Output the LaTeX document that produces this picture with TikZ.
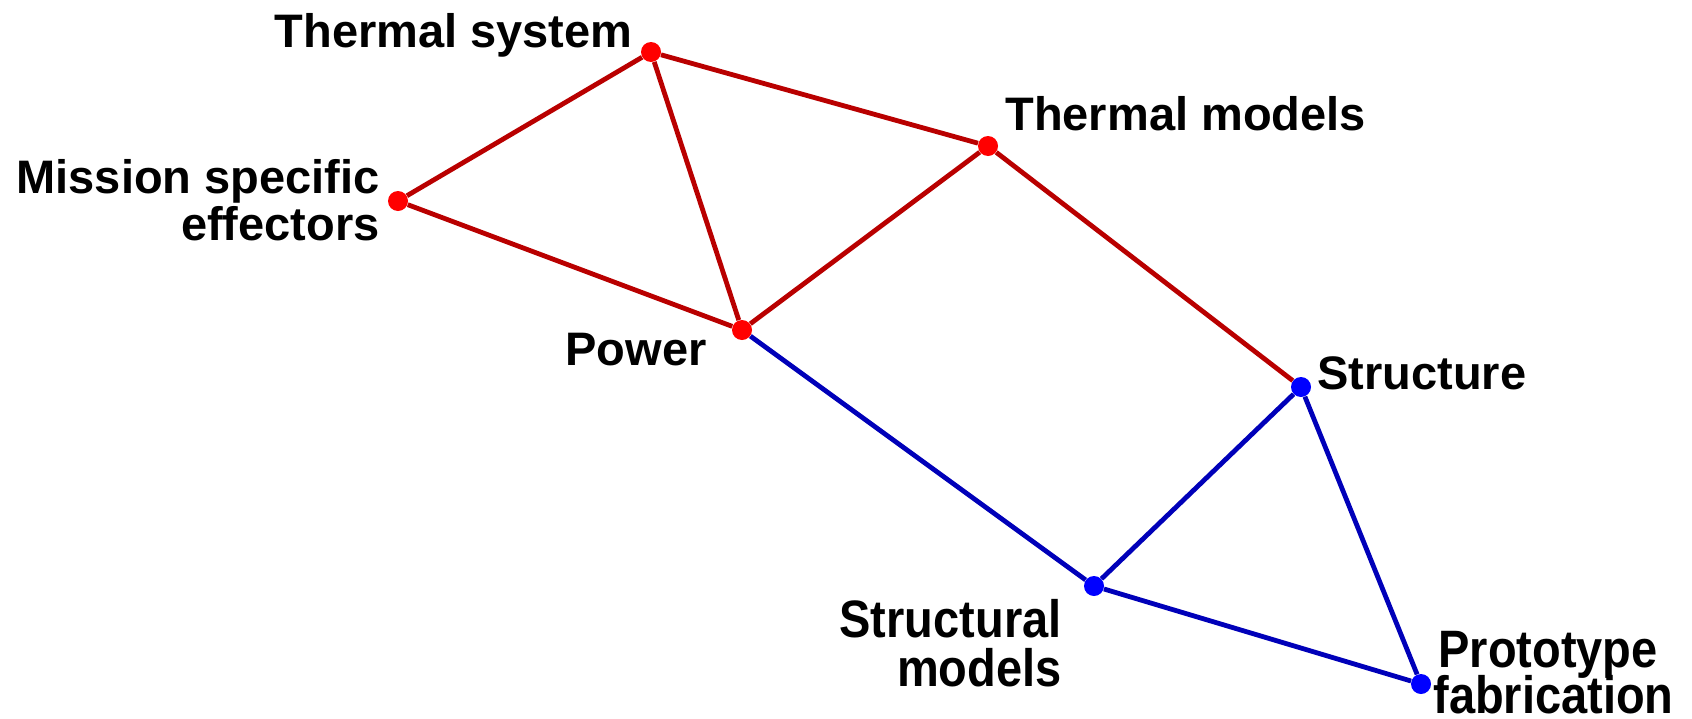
\documentclass[tikz,border=0pt]{standalone}
\usepackage{fontspec}
\setmainfont{Liberation Sans}
\definecolor{edgered}{RGB}{185,0,0}
\definecolor{edgeblue}{RGB}{0,0,185}
\definecolor{dotred}{RGB}{255,0,0}
\definecolor{dotblue}{RGB}{0,0,255}
\begin{document}
\begin{tikzpicture}[x=0.5pt,y=-0.5pt,
  reddot/.style={circle,fill=dotred,inner sep=0pt,minimum size=10pt},
  bluedot/.style={circle,fill=dotblue,inner sep=0pt,minimum size=10pt},
  redline/.style={draw=edgered,line width=2.4pt},
  blueline/.style={draw=edgeblue,line width=2.4pt},
  lbl/.style={inner sep=0pt,font=\fontsize{23.5pt}{28pt}\selectfont\bfseries},
  tall/.style={inner sep=0pt,font=\fontsize{23.5pt}{28pt}\selectfont\bfseries}]
\useasboundingbox[fill=white] (0,0) rectangle (1692,718);
% nodes
\node[reddot] (ts) at (651,52) {};
\node[reddot] (ms) at (398,201) {};
\node[reddot] (tm) at (988,146) {};
\node[reddot] (pw) at (742,330) {};
\node[bluedot] (st) at (1301,387) {};
\node[bluedot] (sm) at (1094,586) {};
\node[bluedot] (pf) at (1421,684) {};
% edges
\draw[redline] (ts) -- (ms);
\draw[redline] (ts) -- (pw);
\draw[redline] (ts) -- (tm);
\draw[redline] (ms) -- (pw);
\draw[redline] (pw) -- (tm);
\draw[redline] (tm) -- (st);
\draw[blueline] (pw) -- (sm);
\draw[blueline] (st) -- (sm);
\draw[blueline] (st) -- (pf);
\draw[blueline] (sm) -- (pf);
% labels
\node[lbl,anchor=base east] (tsl) at (633,47) {Thermal system};
\node[lbl,anchor=base east] (msl1) at (380,193) {Mission specific};
\node[lbl,anchor=base east] (msl2) at (380,240) {effectors};
\node[lbl,anchor=base west] (tml) at (1005,130) {Thermal models};
\node[lbl,anchor=base east] (pwl) at (707,365) {Power};
\node[lbl,anchor=base west] (stl) at (1317,389) {Structure};
\node[tall,anchor=base east] (sml1) at (1062,637) {\scalebox{1}[1.12]{Structural}};
\node[tall,anchor=base east] (sml2) at (1062,686) {\scalebox{1}[1.12]{models}};
\node[tall,anchor=base west] (pfl1) at (1438,667) {\scalebox{1}[1.12]{Prototype}};
\node[tall,anchor=base west] (pfl2) at (1433,713) {\scalebox{1}[1.12]{fabrication}};
\end{tikzpicture}
\end{document}
